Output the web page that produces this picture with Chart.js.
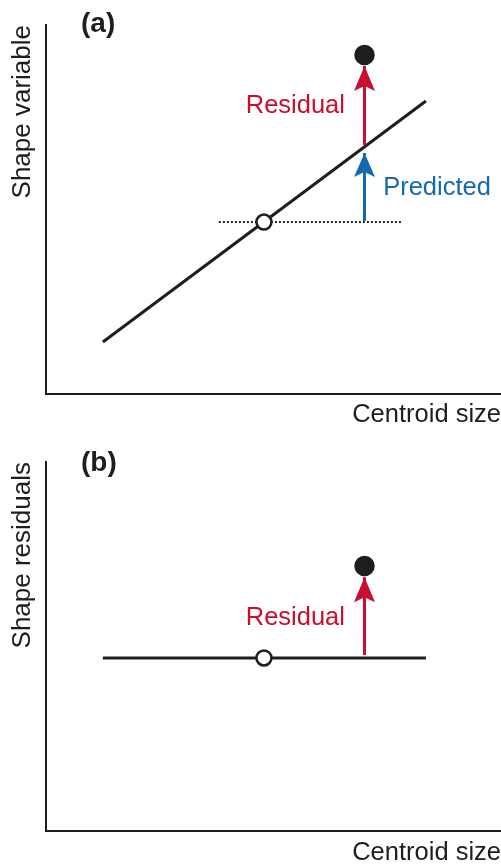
<!DOCTYPE html>
<html>
<head>
<meta charset="utf-8">
<script src="https://cdn.jsdelivr.net/npm/chart.js@4"></script>
<style>
  html, body { margin: 0; padding: 0; background: #fff; overflow: hidden; }
  .panel { position: absolute; left: 0; width: 501px; height: 432px; }
  #panelA { top: 0; }
  #panelB { top: 440px; }
</style>
</head>
<body>
<div class="panel" id="panelA"><canvas id="chartA" width="501" height="432"></canvas></div>
<div class="panel" id="panelB"><canvas id="chartB" width="501" height="432"></canvas></div>
<script>
// valores (unidades arbitrarias 0-10)
// panel (a): regresion de forma sobre tamaño
const lineSize = [1.25, 8.35];
const lineShape = [1.41, 7.94];
const meanSize = [4.79];
const meanShape = [4.66];
const dottedSize = [3.8, 7.82];
const obsSize = [7.0];
const obsShape = [9.19];
const predictedShape = [4.69, 6.53];   // flecha azul: base, punta
const residualShapeA = [6.75, 8.89];   // flecha roja: base, punta

// panel (b): residuos de forma
const flatShape = [4.69, 4.69];
const obsResidual = [7.18];
const residualShapeB = [4.77, 6.88];

const BLACK = '#1e1e1e';
const RED = '#c8102e';
const BLUE = '#1469b0';
const FONT = 'Liberation Sans, Arial, Helvetica, sans-serif';

function pts(xs, ys) {
    return xs.map(function(x, i) { return {x: x, y: ys[i]}; });
}

// dibuja puntas de flecha y textos
function makeNotes(panelLabel, labelDy, notes) {
    return {
        id: 'notes',
        afterDatasetsDraw: function(chart) {
            const ctx = chart.ctx;
            chart.data.datasets.forEach(function(ds, i) {
                if (!ds.arrowHead) return;
                const els = chart.getDatasetMeta(i).data;
                const tip = els[els.length - 1];
                const prev = els[els.length - 2];
                const ang = Math.atan2(tip.y - prev.y, tip.x - prev.x);
                const L = ds.arrowHead.length, W = ds.arrowHead.width, N = 5;
                ctx.save();
                ctx.translate(tip.x, tip.y);
                ctx.rotate(ang + Math.PI / 2);
                ctx.beginPath();
                ctx.moveTo(0, 0);
                ctx.lineTo(-W / 2, L);
                ctx.lineTo(0, L - N);
                ctx.lineTo(W / 2, L);
                ctx.closePath();
                ctx.fillStyle = ds.borderColor;
                ctx.fill();
                ctx.restore();
            });
            const xs = chart.scales.x, ys = chart.scales.y;
            ctx.save();
            ctx.textBaseline = 'alphabetic';
            notes.forEach(function(n) {
                ctx.font = '25.5px ' + FONT;
                ctx.fillStyle = n.color;
                ctx.textAlign = n.align;
                ctx.fillText(n.text, xs.getPixelForValue(n.x), ys.getPixelForValue(n.y));
            });
            ctx.font = 'bold 28px ' + FONT;
            ctx.fillStyle = BLACK;
            ctx.textAlign = 'left';
            ctx.fillText(panelLabel, chart.chartArea.left + 35, chart.chartArea.top + labelDy);
            ctx.restore();
        }
    };
}

function axes(yTitle, xPad) {
    const common = {
        type: 'linear',
        min: 0,
        max: 10,
        grid: { display: false, drawTicks: false },
        ticks: { display: false },
        border: { color: BLACK, width: 2 }
    };
    return {
        x: Object.assign({}, common, {
            title: {
                display: true, text: 'Centroid size', align: 'end', color: BLACK,
                font: { family: FONT, size: 25.5, lineHeight: 1.2 },
                padding: xPad
            }
        }),
        y: Object.assign({}, common, {
            title: {
                display: true, text: yTitle, align: 'end', color: BLACK,
                font: { family: FONT, size: 26, lineHeight: 1.2 },
                padding: { top: 7.4, bottom: 7.4 }
            }
        })
    };
}

function lineSet(data, color, width, extra) {
    return Object.assign({
        data: data,
        showLine: true,
        borderColor: color,
        backgroundColor: color,
        borderWidth: width,
        pointRadius: 0,
        pointHoverRadius: 0
    }, extra || {});
}

function pointSet(data, fill, radius) {
    return {
        data: data,
        showLine: false,
        pointRadius: radius,
        pointHoverRadius: radius,
        pointBackgroundColor: fill,
        pointBorderColor: BLACK,
        pointBorderWidth: 2.5
    };
}

const baseOptions = {
    responsive: false,
    animation: false,
    events: [],
    plugins: { legend: { display: false }, tooltip: { enabled: false } }
};

// Panel (a)
new Chart(document.getElementById('chartA'), {
    type: 'scatter',
    data: {
        datasets: [
            pointSet(pts(meanSize, meanShape), '#ffffff', 7.5),
            pointSet(pts(obsSize, obsShape), BLACK, 9),
            lineSet(pts([obsSize[0], obsSize[0]], residualShapeA), RED, 3, { arrowHead: { length: 25, width: 21 } }),
            lineSet(pts([obsSize[0], obsSize[0]], predictedShape), BLUE, 3, { arrowHead: { length: 24, width: 21 } }),
            lineSet(pts(lineSize, lineShape), BLACK, 3),
            lineSet(pts(dottedSize, [meanShape[0], meanShape[0]]), BLACK, 2, { borderDash: [2, 2] })
        ]
    },
    options: Object.assign({}, baseOptions, {
        layout: { autoPadding: false, padding: { top: 25, right: 0, bottom: 0, left: 0 } },
        scales: axes('Shape variable', { top: 5.7, bottom: 1.7 })
    }),
    plugins: [makeNotes('(a)', 7, [
        { text: 'Residual', x: 6.57, y: 7.61, align: 'right', color: RED },
        { text: 'Predicted', x: 7.41, y: 5.39, align: 'left', color: BLUE }
    ])]
});

// Panel (b)
new Chart(document.getElementById('chartB'), {
    type: 'scatter',
    data: {
        datasets: [
            pointSet(pts(meanSize, [flatShape[0]]), '#ffffff', 7.5),
            pointSet(pts(obsSize, obsResidual), BLACK, 9),
            lineSet(pts([obsSize[0], obsSize[0]], residualShapeB), RED, 3, { arrowHead: { length: 25, width: 21 } }),
            lineSet(pts(lineSize, flatShape), BLACK, 3)
        ]
    },
    options: Object.assign({}, baseOptions, {
        layout: { autoPadding: false, padding: { top: 22, right: 0, bottom: 0, left: 0 } },
        scales: axes('Shape residuals', { top: 6.7, bottom: 3.7 })
    }),
    plugins: [makeNotes('(b)', 9, [
        { text: 'Residual', x: 6.57, y: 5.58, align: 'right', color: RED }
    ])]
});
</script>
</body>
</html>
